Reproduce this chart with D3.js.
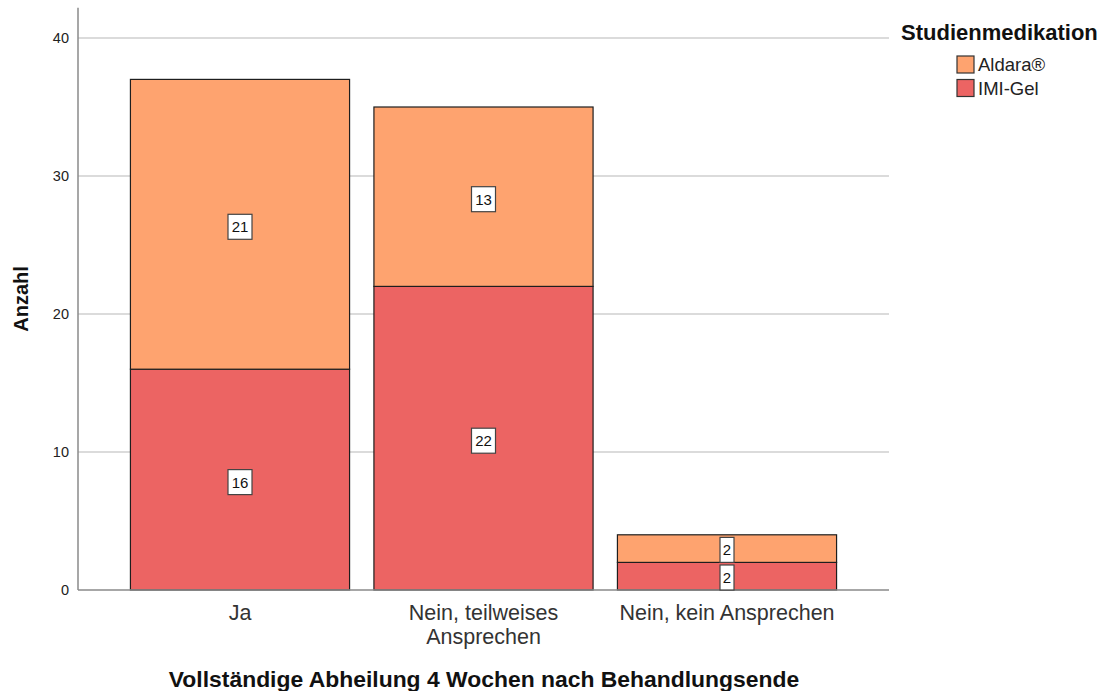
<!DOCTYPE html>
<html>
<head>
<meta charset="utf-8">
<script src="https://cdn.jsdelivr.net/npm/d3@7"></script>
<style>
  html, body { margin: 0; padding: 0; background: #fff; }
  svg { display: block; font-family: "Liberation Sans", Arial, sans-serif; }
</style>
</head>
<body>
<svg id="chart" width="1107" height="691"></svg>
<script>
// Response categories (x axis) and counts per study medication
const categories = ["Ja", "Nein, teilweises Ansprechen", "Nein, kein Ansprechen"];
const categoryLabels = [["Ja"], ["Nein, teilweises", "Ansprechen"], ["Nein, kein Ansprechen"]];
const seriesNames = ["IMI-Gel", "Aldara®"];          // stacking order, bottom to top
const imiGel = [16, 22, 2];
const aldara = [21, 13, 2];
const yTicks = [0, 10, 20, 30, 40];
const legendOrder = ["Aldara®", "IMI-Gel"];

const colors = { "Aldara®": "#FEA36F", "IMI-Gel": "#EC6463" };

const svg = d3.select("#chart");

const x = d3.scaleBand()
  .domain(categories)
  .range([118.25, 848.75])
  .paddingInner(0.1)
  .paddingOuter(0.05);

const y = d3.scaleLinear().domain([0, 40]).range([590, 38]);

const plotLeft = 78, plotRight = 889;

// Gridlines
svg.append("g")
  .selectAll("line")
  .data(yTicks.filter(d => d > 0))
  .join("line")
  .attr("x1", plotLeft).attr("x2", plotRight)
  .attr("y1", d => y(d)).attr("y2", d => y(d))
  .attr("stroke", "#cfcfcf").attr("stroke-width", 1.5);

// Y axis
const yAxis = svg.append("g")
  .attr("transform", `translate(${plotLeft},0)`)
  .call(d3.axisLeft(y).tickValues(yTicks).tickSize(0).tickPadding(9));
yAxis.select(".domain").remove();
yAxis.selectAll("text")
  .attr("font-size", 14.5)
  .attr("fill", "#222")
  .attr("font-family", "Liberation Sans, Arial, sans-serif");
svg.append("line")
  .attr("x1", plotLeft).attr("x2", plotLeft)
  .attr("y1", y(42.2)).attr("y2", y(0))
  .attr("stroke", "#8a8a8a").attr("stroke-width", 1.5);

// Stacked bars
const table = categories.map((c, i) => ({ category: c, "IMI-Gel": imiGel[i], "Aldara®": aldara[i] }));
const stacked = d3.stack().keys(seriesNames)(table);

const layers = svg.append("g")
  .selectAll("g")
  .data(stacked)
  .join("g")
  .attr("fill", d => colors[d.key]);

layers.selectAll("rect")
  .data(d => d)
  .join("rect")
  .attr("x", d => x(d.data.category))
  .attr("width", x.bandwidth())
  .attr("y", d => y(d[1]))
  .attr("height", d => y(d[0]) - y(d[1]))
  .attr("stroke", "#1e1e1e")
  .attr("stroke-width", 1.2);

// X axis baseline
svg.append("line")
  .attr("x1", plotLeft).attr("x2", plotRight)
  .attr("y1", y(0)).attr("y2", y(0))
  .attr("stroke", "#8a8a8a").attr("stroke-width", 1.5);

// Value labels in white boxes
const labelData = [];
stacked.forEach(layer => {
  layer.forEach(d => {
    labelData.push({ cx: x(d.data.category) + x.bandwidth() / 2, v: d[1] - d[0], lo: d[0], hi: d[1] });
  });
});
const labels = svg.append("g")
  .selectAll("g")
  .data(labelData)
  .join("g")
  .attr("transform", d => {
    const mid = (y(d.lo) + y(d.hi)) / 2;
    const top = y(d.hi) + 12.5, bot = y(d.lo) - 12.5;
    const cy = Math.max(Math.min(mid + 2.5, bot), top);
    return `translate(${d.cx},${cy})`;
  });
labels.append("rect")
  .attr("x", d => String(d.v).length > 1 ? -12 : -7)
  .attr("width", d => String(d.v).length > 1 ? 24 : 14)
  .attr("y", -12.5).attr("height", 25)
  .attr("fill", "#fff").attr("stroke", "#444").attr("stroke-width", 1.2);
labels.append("text")
  .attr("text-anchor", "middle")
  .attr("y", 5.5)
  .attr("font-size", 15)
  .attr("fill", "#111")
  .text(d => d.v);

// Category labels
const catText = svg.append("g")
  .selectAll("text")
  .data(categories)
  .join("text")
  .attr("x", d => x(d) + x.bandwidth() / 2)
  .attr("y", 620)
  .attr("text-anchor", "middle")
  .attr("font-size", 21.5)
  .attr("fill", "#333");
catText.selectAll("tspan")
  .data((d, i) => categoryLabels[i])
  .join("tspan")
  .attr("x", function () { return this.parentNode.getAttribute("x"); })
  .attr("dy", (d, i) => i === 0 ? 0 : 24)
  .text(d => d);

// Axis titles
svg.append("text")
  .attr("x", 484)
  .attr("y", 687)
  .attr("text-anchor", "middle")
  .attr("font-size", 22.9)
  .attr("font-weight", "bold")
  .attr("fill", "#111")
  .text("Vollständige Abheilung 4 Wochen nach Behandlungsende");

svg.append("text")
  .attr("transform", "translate(28,299) rotate(-90)")
  .attr("text-anchor", "middle")
  .attr("font-size", 20)
  .attr("font-weight", "bold")
  .attr("fill", "#111")
  .text("Anzahl");

// Legend
const legend = svg.append("g");
legend.append("text")
  .attr("x", 901).attr("y", 40)
  .attr("font-size", 22)
  .attr("font-weight", "bold")
  .attr("fill", "#111")
  .text("Studienmedikation");
const items = legend.selectAll("g.item")
  .data(legendOrder)
  .join("g")
  .attr("class", "item")
  .attr("transform", (d, i) => `translate(957,${56 + i * 23.5})`);
items.append("rect")
  .attr("width", 17).attr("height", 17)
  .attr("fill", d => colors[d])
  .attr("stroke", "#333").attr("stroke-width", 1.2);
items.append("text")
  .attr("x", 21).attr("y", 15)
  .attr("font-size", 18.5)
  .attr("fill", "#222")
  .text(d => d);
</script>
</body>
</html>
